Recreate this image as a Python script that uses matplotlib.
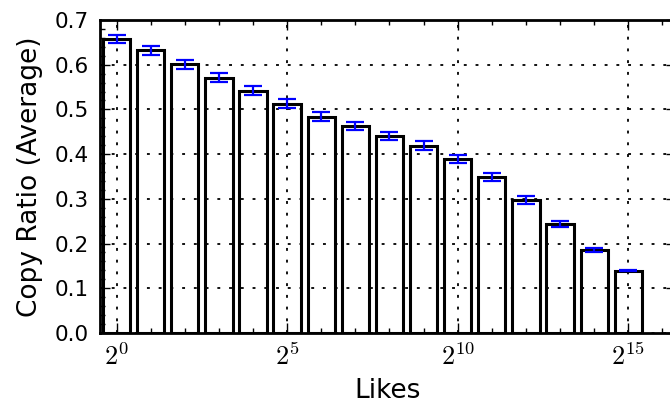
import numpy as np
import matplotlib
matplotlib.use('Agg')
import matplotlib.pyplot as plt
from matplotlib.ticker import FixedLocator, FuncFormatter, MultipleLocator

# Data (bins centred at 2^k likes)
likes_exp = list(range(16))
copy_ratio = [0.658, 0.632, 0.601, 0.571, 0.542, 0.513, 0.484, 0.462,
              0.441, 0.419, 0.389, 0.349, 0.298, 0.244, 0.186, 0.139]
ratio_err = [0.0093, 0.010, 0.0104, 0.0097, 0.010, 0.0097, 0.010, 0.009,
             0.0093, 0.0093, 0.0085, 0.0082, 0.009, 0.007, 0.0041, 0.001]
major_exp = [0, 5, 10, 15]

plt.rcParams['mathtext.fontset'] = 'cm'
plt.rcParams['font.family'] = 'DejaVu Sans'

fig = plt.figure(figsize=(6.7, 4.08), dpi=100)
ax = fig.add_axes([0.149, 0.184, 0.86, 0.767])

centers = 2.0 ** np.array(likes_exp)
half = 0.4
lefts = centers * 2 ** -half
widths = centers * (2 ** half - 2 ** -half)

ax.set_xscale('log', base=2)
ax.bar(lefts, copy_ratio, width=widths, align='edge', color='white',
       edgecolor='black', linewidth=2.2, zorder=2)
ax.errorbar(centers, copy_ratio, yerr=ratio_err, fmt='none', ecolor='blue',
            elinewidth=1.6, capsize=6.5, capthick=1.6, zorder=4)

ax.set_xlim(2 ** -0.49, 2 ** 16.4)
ax.set_ylim(0, 0.7)

ax.xaxis.set_major_locator(FixedLocator([2.0 ** e for e in major_exp]))
ax.xaxis.set_minor_locator(FixedLocator([2.0 ** e for e in likes_exp + [16]]))
ax.xaxis.set_major_formatter(FuncFormatter(lambda v, p: r'$2^{%d}$' % round(np.log2(v))))
ax.xaxis.set_minor_formatter(FuncFormatter(lambda v, p: ''))
ax.yaxis.set_major_locator(MultipleLocator(0.1))
ax.yaxis.set_minor_locator(MultipleLocator(0.02))
ax.yaxis.set_major_formatter(FuncFormatter(lambda v, p: '%.1f' % v))

ax.tick_params(which='both', direction='in', top=True, right=True)
ax.tick_params(which='major', length=7, width=1)
ax.tick_params(which='minor', length=3.5, width=1)
ax.tick_params(axis='y', which='major', labelsize=15.5, pad=8)
ax.tick_params(axis='x', which='major', labelsize=19, pad=8)

ax.set_axisbelow(False)
ax.grid(True, which='major', color='black', linestyle=(0, (1.6, 4.9)), linewidth=1.3, zorder=3)

for s in ax.spines.values():
    s.set_linewidth(2)

ax.set_xlabel('Likes', fontsize=19, labelpad=5)
ax.set_ylabel('Copy Ratio (Average)', fontsize=19, labelpad=8)

fig.savefig('out.png', dpi=100)
